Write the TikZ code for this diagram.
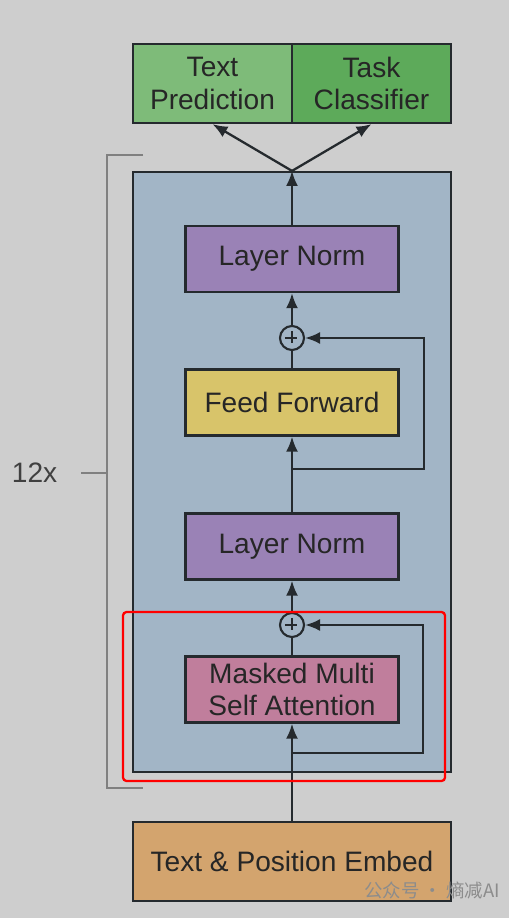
\documentclass[tikz,border=0pt]{standalone}
\usepackage{fontspec}
\setmainfont{Liberation Sans}
\newfontfamily\cjk{Noto Sans CJK SC}
\usepackage{tikz}
\usetikzlibrary{arrows.meta,positioning}

\definecolor{bgGray}{HTML}{CECECE}
\definecolor{blockBlue}{HTML}{A2B5C6}
\definecolor{normPurple}{HTML}{9A82B6}
\definecolor{ffYellow}{HTML}{D8C46A}
\definecolor{attnPink}{HTML}{C07E9C}
\definecolor{embedTan}{HTML}{D3A46E}
\definecolor{predGreen}{HTML}{7EBB79}
\definecolor{taskGreen}{HTML}{5DAA5A}
\definecolor{edge}{HTML}{252A2E}

\begin{document}
\begin{tikzpicture}[x=0.02cm,y=-0.02cm,
	>={Latex[length=0.3cm,width=0.24cm]},
	every node/.style={font=\fontsize{16}{18.5}\selectfont,text=black!85},
	layerbox/.style={draw=edge,line width=1.3pt,minimum width=4.26cm,minimum height=1.32cm,align=center,inner sep=0pt},
	headbox/.style={draw=edge,line width=1.3pt,minimum width=3.18cm,minimum height=1.58cm,align=center,inner sep=0pt},
	addnode/.style={draw=edge,line width=1.2pt,circle,minimum size=0.48cm,inner sep=0pt},
	link/.style={draw=edge,line width=1.3pt}]
		\fill[bgGray] (0,0) rectangle (509,918);
		\useasboundingbox (0,0) rectangle (509,918);
		% output heads
		\node[headbox,fill=predGreen] (pred) at (212.5,83.5) {Text\\Prediction};
		\node[headbox,fill=taskGreen] (task) at (371.5,83.5) {Task\\Classifier};
		% repeated block
		\node[draw=edge,line width=1.3pt,fill=blockBlue,minimum width=6.36cm,minimum height=12cm,inner sep=0pt] (block) at (292,472) {};
		\node[layerbox,fill=normPurple] (normtop) at (292,259) {Layer Norm};
		\node[addnode] (addtop) at (292,338) {};
		\node[layerbox,fill=ffYellow] (ffn) at (292,402.5) {Feed Forward};
		\node[layerbox,fill=normPurple] (normlow) at (292,546.5) {Layer Norm};
		\node[addnode] (addlow) at (292,625) {};
		\node[layerbox,fill=attnPink] (attn) at (292,689.5) {Masked Multi\\Self Attention};
		\node[headbox,minimum width=6.36cm,fill=embedTan] (embed) at (292,861.5) {Text \& Position Embed};
		% plus signs
		\draw[link,line width=1pt] (addtop.west) ++(6,0) -- ++(12,0) (addtop.north) ++(0,6) -- ++(0,12);
		\draw[link,line width=1pt] (addlow.west) ++(6,0) -- ++(12,0) (addlow.north) ++(0,6) -- ++(0,12);
		% residual taps
		\coordinate (tapffn) at (292,469);
		\coordinate (tapattn) at (292,753);
		% connectors
		\draw[link,->] (embed) -- (attn);
		\draw[link,->] (tapattn) -- ++(131,0) |- (addlow);
		\draw[link] (attn) -- (addlow);
		\draw[link,->] (addlow) -- (normlow);
		\draw[link,->] (normlow) -- (ffn);
		\draw[link,->] (tapffn) -- ++(132,0) |- (addtop);
		\draw[link] (ffn) -- (addtop);
		\draw[link,->] (addtop) -- (normtop);
		\draw[link,->] (normtop) -- (block.north);
		\draw[link,->] (block.north) -- (pred.south);
		\draw[link,->] (block.north) -- (task.south);
		% highlight
		\draw[red,line width=1.3pt,rounded corners=2pt] (123,612) rectangle (445,781);
		% repeat bracket
		\draw[gray,line width=1.2pt] (143,155) -- (107,155) -- (107,788) -- (143,788);
		\draw[gray,line width=1.2pt] (81,473) coordinate (tick) -- (107,473);
		\node[left=0.35cm of tick,text=black!75] (rep) {12x};
		% watermark
		\node[text=black!45,font=\cjk\fontsize{10.5}{12}\selectfont,inner sep=0pt] (mark) at (432,890) {公众号 · 熵减AI};
	\end{tikzpicture}
\end{document}
